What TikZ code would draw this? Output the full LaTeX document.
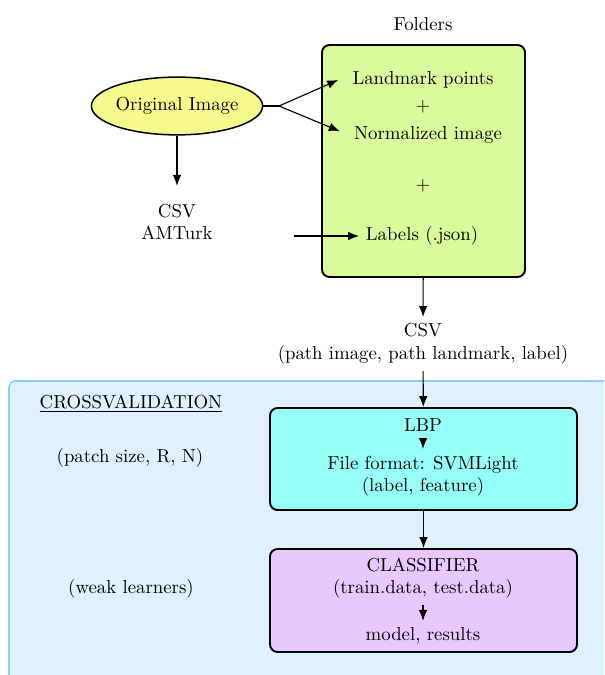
\documentclass[tikz,border=0pt]{standalone}
\usepackage{tikz}
\usetikzlibrary{shapes}
\usetikzlibrary{arrows.meta}
\usetikzlibrary{fit}
\definecolor{imgyellow}{RGB}{244,250,140}
\definecolor{foldgreen}{RGB}{217,251,155}
\definecolor{lbpcyan}{RGB}{150,255,250}
\definecolor{clsviolet}{RGB}{232,200,255}
\definecolor{cvfill}{RGB}{224,240,255}
\definecolor{cvblue}{RGB}{135,210,252}
\tikzset{
	txtnode/.style = {
		align=center,
		inner sep=3.33pt,
		text centered
	},
	node_img/.style = {
		ellipse,
		draw=black,
		fill=imgyellow,
		thick,
		inner xsep=-0.8pt,
		inner ysep=0pt,
		minimum width=3.2cm,
		minimum height=1.08cm
	},
	node_box/.style = {
		rectangle,
		rounded corners=4pt,
		draw=black,
		line width=1pt,
		inner sep=0pt
	},
	node_folders/.style = {
		node_box,
		fill=foldgreen
	},
	node_lbp/.style = {
		node_box,
		fill=lbpcyan
	},
	node_cls/.style = {
		node_box,
		fill=clsviolet
	},
	cv_region/.style = {
		-,
		draw=cvblue,
		fill=cvfill,
		thick,
		rounded corners=3pt
	},
}
\begin{document}
\begin{tikzpicture}[x=0.01869cm, y=-0.01869cm, ->, >={Latex[length=5.8pt,width=4.6pt]}, semithick]
\clip (0,0) rectangle (604,675);
% crossvalidation region
\draw [cv_region] (9,381) rectangle (650,720);
\node [txtnode] (cvtitle) at (131,404) {\underline{CROSSVALIDATION}};
\node [txtnode] (patch) at (130,458) {(patch size, R, N)};
\node [txtnode] (weak) at (131,589) {(weak learners)};

% folders
\node [txtnode] (foldlbl) at (423,24) {Folders};
\node [node_folders, fit={(322,45) (525,277)}] (fold) {};
\node [txtnode] (lmk) at (423,80) {Landmark points};
\node [txtnode] (plus1) at (423,107) {$+$};
\node [txtnode] (nrm) at (428,135) {Normalized image};
\node [txtnode] (plus2) at (423,186) {$+$};
\node [txtnode] (lbl) at (422,236) {Labels (.json)};

\node [node_img] (oimg) at (177,106) {Original Image};
\node [txtnode] (amt) at (177,222) {CSV\\AMTurk};
\coordinate (split) at (279,106);
\coordinate (amtout) at (294,236);

\node [txtnode] (csv) at (423,344) {CSV\\(path image, path landmark, label)};

% lbp and classifier
\node [node_lbp, fit={(270,408) (577,510)}] (lbp) {};
\node [txtnode] (lbptxt) at (423,425) {LBP};
\node [txtnode] (fmt) at (423,476) {File format: SVMLight\\(label, feature)};
\node [node_cls, fit={(270,549) (577,652)}] (cls) {};
\node [txtnode] (clstxt) at (423,578) {CLASSIFIER\\(train.data, test.data)};
\node [txtnode] (model) at (423,636) {model, results};

\draw [-] (oimg) -- (split);
\draw (split) -- ([xshift=-4pt]lmk.west);
\draw (split) -- ([xshift=-4pt,yshift=2pt]nrm.west);
\draw [shorten >=6pt] (oimg) -- (amt);
\draw (amtout) -- (lbl);
\draw (fold) -- (csv);
\draw (csv) -- (lbp);
\draw (lbptxt) -- (fmt);
\draw (lbp) -- (cls);
\draw (clstxt) -- (model);
\end{tikzpicture}
\end{document}
